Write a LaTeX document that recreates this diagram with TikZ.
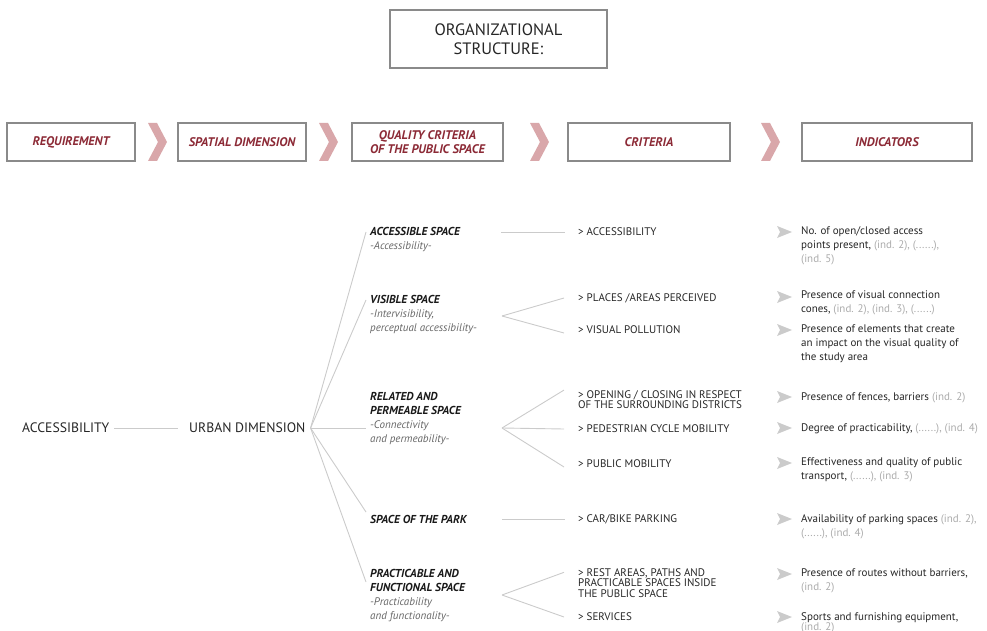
\documentclass[tikz,border=0pt]{standalone}
\usepackage{fontspec}
\setmainfont{PT Sans}
\usetikzlibrary{positioning}

\definecolor{darkred}{HTML}{8C2A36}
\definecolor{chevpink}{HTML}{D9A7AA}
\definecolor{boxgray}{HTML}{8A8A8A}
\definecolor{linkgray}{HTML}{CBCBCB}
\definecolor{txtgray}{HTML}{262626}
\definecolor{softgray}{HTML}{666666}
\definecolor{indgray}{HTML}{ABABAB}

\newcommand{\qtitle}[1]{\textbf{\textit{\textcolor{black!90}{#1}}}}
\newcommand{\qsub}[1]{{\fontsize{11}{14}\selectfont\textit{\textcolor{softgray}{#1}}}}
\newcommand{\indref}[1]{\textcolor{indgray}{#1}}

\tikzset{
  headbox/.style={draw=boxgray, line width=1.3pt, fill=white, minimum height=38pt,
    text=darkred, font=\fontsize{12.5}{14}\selectfont\bfseries\itshape, align=center},
  chevron/.style={fill=chevpink},
  link/.style={draw=linkgray, line width=0.9pt},
  qual/.style={anchor=north west, inner sep=0pt, align=left, text=txtgray,
    font=\fontsize{11.5}{14}\selectfont},
  crit/.style={anchor=west, inner sep=0pt, align=left, text=txtgray,
    font=\fontsize{11}{10.5}\selectfont},
  indic/.style={anchor=north west, inner sep=0pt, align=left, text=txtgray,
    font=\fontsize{11}{14}\selectfont},
  pointer/.style={fill=linkgray},
  root/.style={anchor=west, inner sep=0pt, text=txtgray, font=\fontsize{13.7}{15}\selectfont}
}

\begin{document}
\begin{tikzpicture}[x=1pt,y=-1pt]
        \useasboundingbox (0,0) rectangle (987,631);
        %
        \node [draw=boxgray, line width=1.3pt, minimum width=217pt, minimum height=58pt,
          align=center, text=txtgray, font=\fontsize{16.5}{19}\selectfont]
          (title) at (498.5,39) {ORGANIZATIONAL\\STRUCTURE:};
        %
        \node [headbox, minimum width=128pt] (h-req) at (71,142) {REQUIREMENT};
        \node [headbox, minimum width=128pt] (h-spat) at (242,142) {SPATIAL DIMENSION};
        \node [headbox, minimum width=151pt] (h-qual) at (427.5,142) {QUALITY CRITERIA\\OF THE PUBLIC SPACE};
        \node [headbox, minimum width=162pt] (h-crit) at (649,142) {CRITERIA};
        \node [headbox, minimum width=170pt] (h-ind) at (887,142) {INDICATORS};
        \foreach \x in {148,319,530,761}
          \fill [chevron] (\x,123) -- ({\x+9},123) -- ({\x+19},142) -- ({\x+9},161)
            -- (\x,161) -- ({\x+10},142) -- cycle;
        %
        \node [root] (acc) at (22,428) {ACCESSIBILITY};
        \node [root] (urb) at (189,428) {URBAN DIMENSION};
        \draw [link] ([xshift=5pt]acc.east) -- ([xshift=-11pt]urb.west);
        %
        \node [qual] (qa) at (370,227) {\qtitle{ACCESSIBLE SPACE}\\\qsub{-Accessibility-}};
        \node [qual] (qb) at (370,295) {\qtitle{VISIBLE SPACE}\\\qsub{-Intervisibility,}\\\qsub{perceptual accessibility-}};
        \node [qual] (qc) at (370,392) {\qtitle{RELATED AND}\\\qtitle{PERMEABLE SPACE}\\\qsub{-Connectivity}\\\qsub{and permeability-}};
        \node [qual] (qd) at (370,515) {\qtitle{SPACE OF THE PARK}};
        \node [qual] (qe) at (370,569) {\qtitle{PRACTICABLE AND}\\\qtitle{FUNCTIONAL SPACE}\\\qsub{-Practicability}\\\qsub{and functionality-}};
        %
        \coordinate (qa-in) at (366,232);
        \coordinate (qb-in) at (366,300);
        \coordinate (qc-in) at (366,428);
        \coordinate (qd-in) at (366,512);
        \coordinate (qe-in) at (366,582);
        \foreach \q in {qa,qb,qc,qd,qe}
          \draw [link] ([xshift=5pt]urb.east) -- (\q-in);
        %
        \node [crit] (ca) at (578,232) {> ACCESSIBILITY};
        \node [crit] (cb1) at (578,298) {> PLACES /AREAS PERCEIVED};
        \node [crit] (cb2) at (578,330) {> VISUAL POLLUTION};
        \node [crit] (cc1) at (578,399.5) {> OPENING / CLOSING IN RESPECT\\OF THE SURROUNDING DISTRICTS};
        \node [crit] (cc2) at (578,429) {> PEDESTRIAN CYCLE MOBILITY};
        \node [crit] (cc3) at (578,464) {> PUBLIC MOBILITY};
        \node [crit] (cd) at (578,519) {> CAR/BIKE PARKING};
        \node [crit] (ce1) at (578,583) {> REST AREAS, PATHS AND\\PRACTICABLE SPACES INSIDE\\THE PUBLIC SPACE};
        \node [crit] (ce2) at (578,617) {> SERVICES};
        %
        \coordinate (qa-out) at (501,232);
        \coordinate (qb-out) at (502,316);
        \coordinate (qc-out) at (502,428);
        \coordinate (qd-out) at (502,519);
        \coordinate (qe-out) at (502,595);
        \draw [link] (qa-out) -- ([xshift=-13pt]ca.west);
        \draw [link] (qb-out) -- ([xshift=-14pt]cb1.west);
        \draw [link] (qb-out) -- ([xshift=-14pt,yshift=-3pt]cb2.west);
        \draw [link] (qc-out) -- ([xshift=-14pt]cc1.north west);
        \draw [link] (qc-out) -- ([xshift=-14pt]cc2.west);
        \draw [link] (qc-out) -- ([xshift=-14pt,yshift=-3pt]cc3.west);
        \draw [link] (qd-out) -- ([xshift=-13pt]cd.west);
        \draw [link] (qe-out) -- ([xshift=-14pt,yshift=-4pt]ce1.north west);
        \draw [link] (qe-out) -- ([xshift=-14pt]ce2.west);
        %
        \node [indic] (ia) at (801,226) {No. of open/closed access\\points present, \indref{(ind. 2), (......),}\\\indref{(ind. 5)}};
        \node [indic] (ib1) at (801,291) {Presence of visual connection\\cones, \indref{(ind. 2), (ind. 3), (......)}};
        \node [indic] (ib2) at (801,325) {Presence of elements that create\\an impact on the visual quality of\\the study area};
        \node [indic] (ic1) at (801,392) {Presence of fences, barriers \indref{(ind. 2)}};
        \node [indic] (ic2) at (801,423) {Degree of practicability, \indref{(......), (ind. 4)}};
        \node [indic] (ic3) at (801,458) {Effectiveness and quality of public\\transport, \indref{(......), (ind. 3)}};
        \node [indic] (id) at (801,514) {Availability of parking spaces \indref{(ind. 2),}\\\indref{(......), (ind. 4)}};
        \node [indic] (ie1) at (801,569) {Presence of routes without barriers,\\\indref{(ind. 2)}};
        \node [indic, font=\fontsize{11}{10.5}\selectfont] (ie2) at (801,612) {Sports and furnishing equipment,\\\indref{(ind. 2)}};
        \foreach \y in {232,297,330,397,428,463,519,574,617}
          \fill [pointer] (777,{\y-6}) -- (792,\y) -- (777,{\y+6}) -- (780,\y) -- cycle;
\end{tikzpicture}
\end{document}
